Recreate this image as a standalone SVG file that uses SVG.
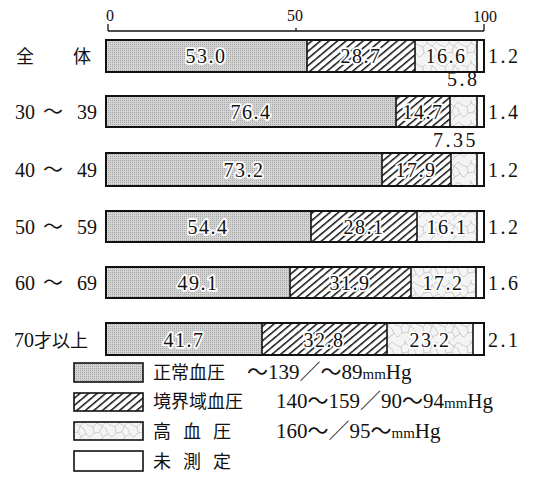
<svg xmlns="http://www.w3.org/2000/svg" width="544" height="477" viewBox="0 0 544 477">
<defs>
<pattern id="stip" patternUnits="userSpaceOnUse" width="2" height="2">
<rect width="2" height="2" fill="#d4d4d4"/>
<rect x="0" y="0" width="1" height="1" fill="#a6a6a6"/>
</pattern>
<pattern id="hatch" patternUnits="userSpaceOnUse" width="5.5" height="5.5" patternTransform="rotate(50)">
<rect width="5.5" height="5.5" fill="#ffffff"/>
<line x1="0" y1="0" x2="0" y2="5.5" stroke="#111" stroke-width="3"/>
</pattern>
<pattern id="crack" patternUnits="userSpaceOnUse" width="22" height="20">
<rect width="22" height="20" fill="#f4f4f4"/>
<path d="M0 5 L5 7 L9 3 L14 6 L18 2 L22 5 M5 7 L6 13 L2 17 L0 16 M6 13 L12 12 L15 17 L13 20 M12 12 L14 6 M15 17 L20 14 L22 15 M20 14 L18 9 L14 6 M9 3 L9 0" fill="none" stroke="#c4c4c4" stroke-width="0.8"/>
</pattern>
<style>
.t{font-family:"Liberation Serif","Noto Sans CJK JP",serif;font-size:20px;fill:#111}
.lg{font-family:"Liberation Serif","Noto Sans CJK JP",serif;font-size:21px;fill:#111}
.v{font-family:"Liberation Serif","Noto Sans CJK JP",serif;font-size:20px;fill:#111;text-anchor:middle;letter-spacing:1.5px;stroke:#fff;stroke-width:3.5px;paint-order:stroke;stroke-linejoin:round}
.r{font-family:"Liberation Serif",serif;font-size:20px;fill:#111;letter-spacing:2.5px}
.ax{font-family:"Liberation Serif",serif;font-size:16px;fill:#111;text-anchor:middle}
.b{stroke:#111;stroke-width:1.6}
.o{fill:none;stroke:#111;stroke-width:2}
.s1{fill:url(#stip)}
.s2{fill:url(#hatch)}
.s3{fill:url(#crack)}
.s4{fill:#fff}
.j{font-family:"Noto Sans CJK JP","Liberation Serif",sans-serif;font-size:18px;fill:#111}
</style>
</defs>

<g id="axis">
<line x1="108" y1="31" x2="484" y2="31" stroke="#111" stroke-width="1.3"/>
<line x1="108" y1="24" x2="108" y2="31" stroke="#111" stroke-width="1.3"/>
<line x1="296" y1="28" x2="296" y2="31" stroke="#111" stroke-width="1.3"/>
<line x1="484" y1="24" x2="484" y2="31" stroke="#111" stroke-width="1.3"/>
<text class="ax" x="110" y="21">0</text>
<text class="ax" x="295" y="21">50</text>
<text class="ax" x="485" y="22">100</text>
</g>

<g id="bar-all">
<text class="j" x="16" y="63">全</text><text class="j" x="73" y="63">体</text>
<rect class="s1" x="106" y="40" width="201" height="32"/>
<rect class="s2" x="307" y="40" width="108" height="32"/>
<rect class="s3" x="415" y="40" width="62" height="32"/>
<rect class="s4" x="477" y="40" width="7" height="32"/>
<path class="b" d="M307 40V72M415 40V72M477 40V72"/>
<rect class="o" x="106" y="40" width="378" height="32"/>
<text class="v" x="206" y="63">53.0</text>
<text class="v" x="361" y="63">28.7</text>
<text class="v" x="446" y="63">16.6</text>
<text class="r" x="488" y="63">1.2</text>
</g>

<g id="bar-30">
<text class="t" x="15" y="119">30</text><text class="t" x="43" y="119">～</text><text class="t" x="77" y="119">39</text>
<text class="r" x="447" y="86">5.8</text>
<rect class="s1" x="106" y="96" width="290" height="31"/>
<rect class="s2" x="396" y="96" width="54" height="31"/>
<rect class="s3" x="450" y="96" width="27" height="31"/>
<rect class="s4" x="477" y="96" width="7" height="31"/>
<path class="b" d="M396 96V127M450 96V127M477 96V127"/>
<rect class="o" x="106" y="96" width="378" height="31"/>
<text class="v" x="251" y="119">76.4</text>
<text class="v" x="423" y="119">14.7</text>
<text class="r" x="488" y="119">1.4</text>
</g>

<g id="bar-40">
<text class="t" x="15" y="177">40</text><text class="t" x="43" y="177">～</text><text class="t" x="77" y="177">49</text>
<text class="r" x="433" y="147">7.35</text>
<rect class="s1" x="106" y="153" width="276" height="33"/>
<rect class="s2" x="382" y="153" width="69" height="33"/>
<rect class="s3" x="451" y="153" width="26" height="33"/>
<rect class="s4" x="477" y="153" width="7" height="33"/>
<path class="b" d="M382 153V186M451 153V186M477 153V186"/>
<rect class="o" x="106" y="153" width="378" height="33"/>
<text class="v" x="244" y="177">73.2</text>
<text class="v" x="416" y="177">17.9</text>
<text class="r" x="488" y="177">1.2</text>
</g>

<g id="bar-50">
<text class="t" x="15" y="234">50</text><text class="t" x="43" y="234">～</text><text class="t" x="77" y="234">59</text>
<rect class="s1" x="106" y="211" width="205" height="31"/>
<rect class="s2" x="311" y="211" width="106" height="31"/>
<rect class="s3" x="417" y="211" width="60" height="31"/>
<rect class="s4" x="477" y="211" width="7" height="31"/>
<path class="b" d="M311 211V242M417 211V242M477 211V242"/>
<rect class="o" x="106" y="211" width="378" height="31"/>
<text class="v" x="208" y="234">54.4</text>
<text class="v" x="364" y="234">28.1</text>
<text class="v" x="447" y="234">16.1</text>
<text class="r" x="488" y="234">1.2</text>
</g>

<g id="bar-60">
<text class="t" x="15" y="290">60</text><text class="t" x="43" y="290">～</text><text class="t" x="77" y="290">69</text>
<rect class="s1" x="106" y="267" width="184" height="31"/>
<rect class="s2" x="290" y="267" width="121" height="31"/>
<rect class="s3" x="411" y="267" width="65" height="31"/>
<rect class="s4" x="476" y="267" width="8" height="31"/>
<path class="b" d="M290 267V298M411 267V298M476 267V298"/>
<rect class="o" x="106" y="267" width="378" height="31"/>
<text class="v" x="198" y="290">49.1</text>
<text class="v" x="350" y="290">31.9</text>
<text class="v" x="443" y="290">17.2</text>
<text class="r" x="488" y="290">1.6</text>
</g>

<g id="bar-70">
<text class="t" x="14" y="347">70<tspan class="j">才以上</tspan></text>
<rect class="s1" x="106" y="323" width="156" height="32"/>
<rect class="s2" x="262" y="323" width="125" height="32"/>
<rect class="s3" x="387" y="323" width="86" height="32"/>
<rect class="s4" x="473" y="323" width="11" height="32"/>
<path class="b" d="M262 323V355M387 323V355M473 323V355"/>
<rect class="o" x="106" y="323" width="378" height="32"/>
<text class="v" x="184" y="347">41.7</text>
<text class="v" x="324" y="347">32.8</text>
<text class="v" x="430" y="347">23.2</text>
<text class="r" x="488" y="347">2.1</text>
</g>

<g id="legend">
<rect class="s1" x="74" y="363" width="69" height="19" stroke="#111" stroke-width="1.6"/>
<text class="j" x="153" y="379">正常血圧</text>
<text class="lg" x="247" y="379">～139／～89<tspan font-size="15">mm</tspan>Hg</text>
<rect class="s2" x="74" y="393" width="69" height="18" stroke="#111" stroke-width="1.6"/>
<text class="j" x="153" y="408">境界域血圧</text>
<text class="lg" x="276" y="408">140～159／90～94<tspan font-size="15">mm</tspan>Hg</text>
<rect class="s3" x="74" y="422" width="69" height="18" stroke="#111" stroke-width="1.6"/>
<text class="j" x="153" y="438" letter-spacing="12">高血圧</text>
<text class="lg" x="276" y="438">160～／95～<tspan font-size="15">mm</tspan>Hg</text>
<rect class="s4" x="74" y="451" width="69" height="20" stroke="#111" stroke-width="1.6"/>
<text class="j" x="153" y="468" letter-spacing="12">未測定</text>
</g>
</svg>
